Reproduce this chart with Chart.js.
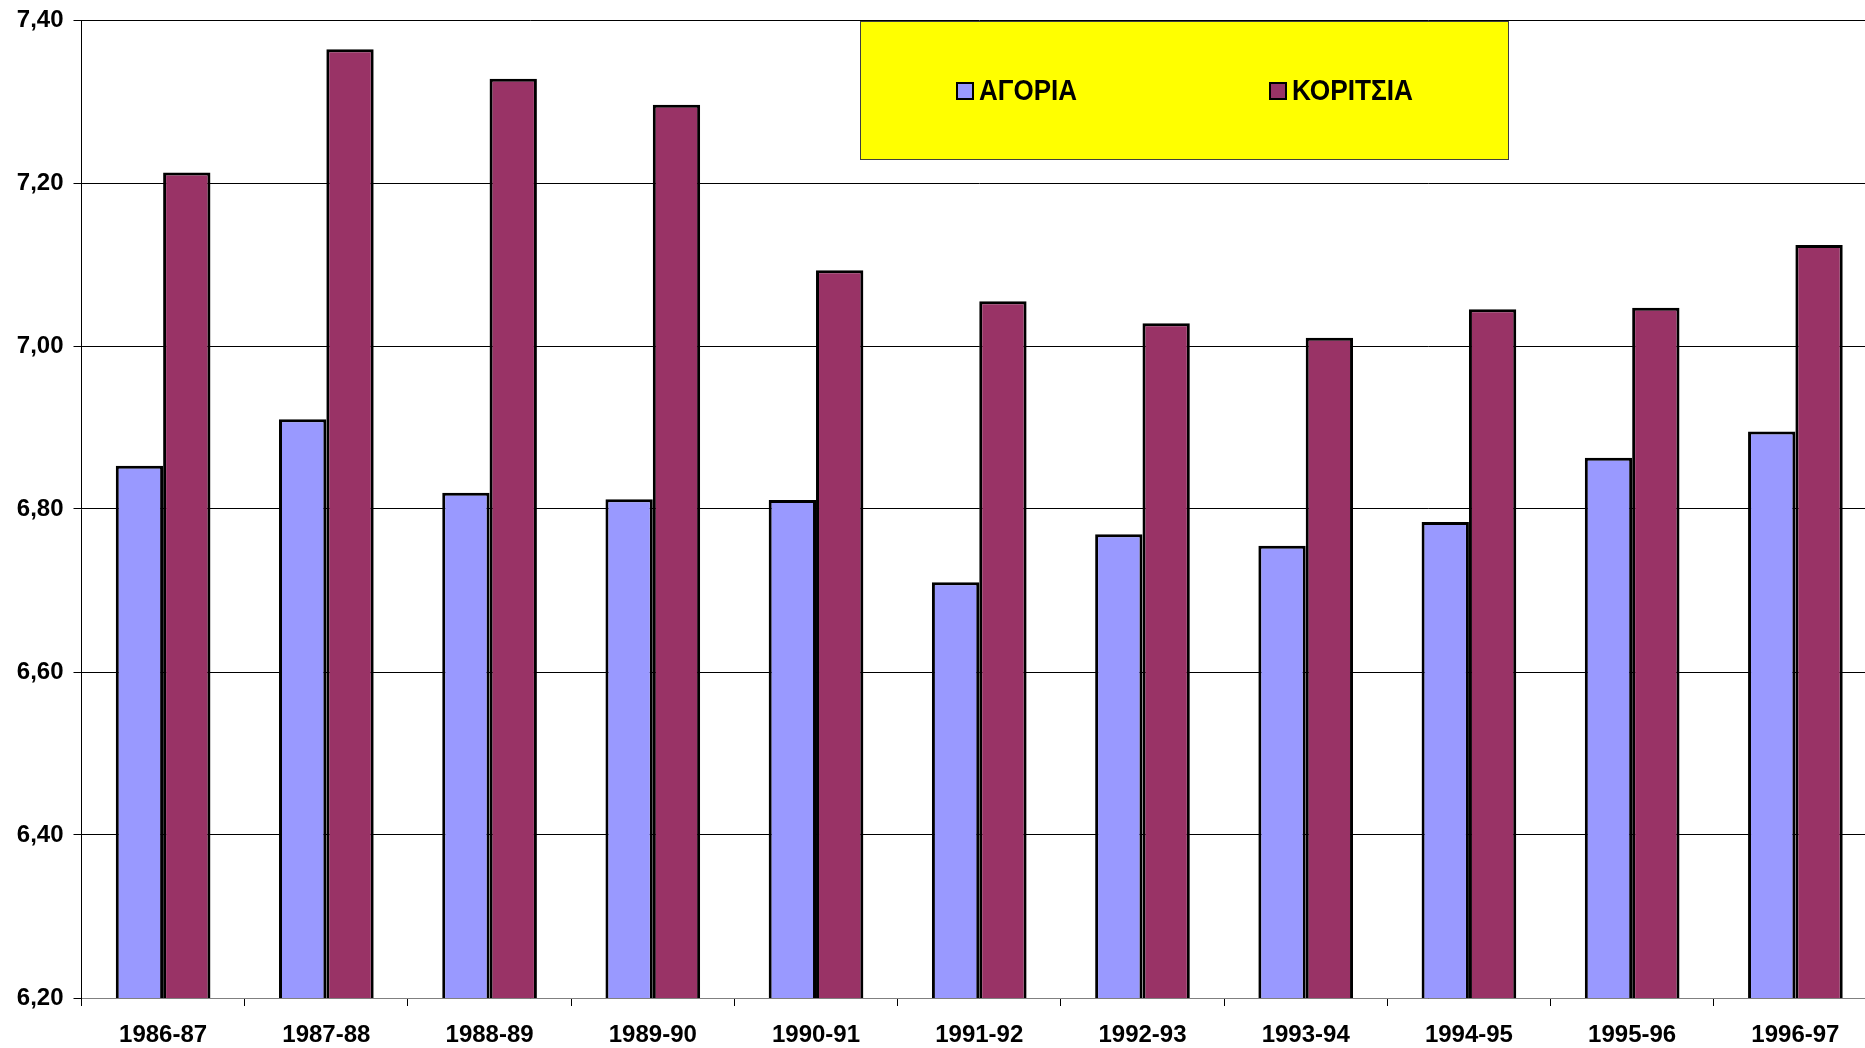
<!DOCTYPE html>
<html>
<head>
<meta charset="utf-8">
<script src="https://cdn.jsdelivr.net/npm/chart.js@4/dist/chart.umd.min.js"></script>
<style>
  html, body { margin: 0; padding: 0; background: #fff; overflow: hidden; }
  #wrap { position: absolute; left: 0; top: 0; width: 1877px; height: 1048px; }
</style>
</head>
<body>
<div id="wrap"><canvas id="chart"></canvas></div>
<script>
const years = ['1986-87', '1987-88', '1988-89', '1989-90', '1990-91', '1991-92',
               '1992-93', '1993-94', '1994-95', '1995-96', '1996-97'];
const boys  = [6.853, 6.910, 6.820, 6.812, 6.811, 6.710, 6.769, 6.755, 6.784, 6.863, 6.895];
const girls = [7.213, 7.364, 7.328, 7.296, 7.093, 7.055, 7.028, 7.010, 7.045, 7.047, 7.124];
const seriesNames = ['ΑΓΟΡΙΑ', 'ΚΟΡΙΤΣΙΑ'];
const yMin = 6.2, yMax = 7.4, yStep = 0.2;

const FONT = '"Liberation Sans", Arial, sans-serif';

// yellow boxed legend, drawn by hand
const boxLegend = {
  id: 'boxLegend',
  afterDraw(chart) {
    const ctx = chart.ctx;
    ctx.save();
    ctx.fillStyle = '#ffff00';
    ctx.fillRect(860, 21, 648, 138);
    ctx.strokeStyle = '#404040';
    ctx.lineWidth = 1;
    ctx.strokeRect(860.5, 21.5, 648, 138);

    const items = [{ x: 957, w: 98 }, { x: 1270, w: 121 }];
    ctx.font = 'bold 29px ' + FONT;
    ctx.textBaseline = 'middle';
    chart.data.datasets.forEach((ds, i) => {
      const it = items[i];
      ctx.fillStyle = ds.backgroundColor;
      ctx.fillRect(it.x, 83, 16, 16);
      ctx.strokeStyle = '#000';
      ctx.lineWidth = 2;
      ctx.strokeRect(it.x, 83, 16, 16);
      ctx.fillStyle = '#000';
      ctx.fillText(ds.label, it.x + 22, 92, it.w);
    });
    ctx.restore();
  }
};

new Chart(document.getElementById('chart'), {
  type: 'bar',
  data: {
    labels: years,
    datasets: [
      { label: seriesNames[0], data: boys,  backgroundColor: '#9999ff', borderColor: '#000', borderWidth: 3 },
      { label: seriesNames[1], data: girls, backgroundColor: '#993366', borderColor: '#000', borderWidth: 3 }
    ]
  },
  options: {
    responsive: true,
    maintainAspectRatio: false,
    animation: false,
    categoryPercentage: 0.58,
    barPercentage: 1,
    layout: { padding: { top: 20, right: 0, left: 0, bottom: 0 } },
    plugins: {
      legend: { display: false },
      tooltip: { enabled: false }
    },
    scales: {
      x: {
        grid: { drawOnChartArea: false, drawTicks: true, tickLength: 8, color: '#000', offset: true },
        border: { color: '#808080', width: 1 },
        ticks: { color: '#000', font: { family: FONT, size: 24, weight: 'bold' }, padding: 15, maxRotation: 0 },
        afterFit(scale) { scale.height = 50; scale.paddingLeft = 0; scale.paddingRight = 0; }
      },
      y: {
        min: yMin,
        max: yMax,
        grid: { color: '#000', lineWidth: 1, tickLength: 8 },
        border: { color: '#000', width: 1 },
        ticks: {
          stepSize: yStep,
          color: '#000',
          padding: 10,
          font: { family: FONT, size: 24, weight: 'bold' },
          callback: v => v.toFixed(2).replace('.', ',')
        },
        afterFit(scale) { scale.width = 81.5; scale.paddingTop = 0; scale.paddingBottom = 0; }
      }
    }
  },
  plugins: [boxLegend]
});
</script>
</body>
</html>
